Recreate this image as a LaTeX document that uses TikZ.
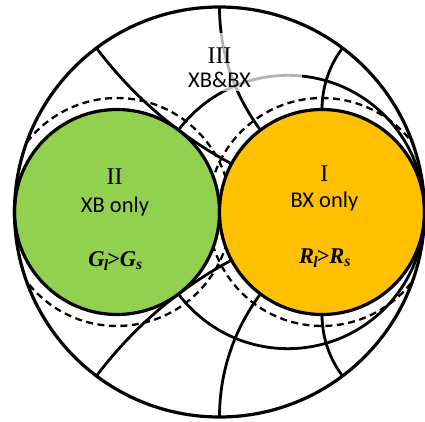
\documentclass[tikz,border=0pt]{standalone}
\usepackage{fontspec}
\setmainfont{Liberation Serif}
\newfontfamily\calib{Carlito}
\definecolor{gfill}{HTML}{92D050}
\definecolor{ofill}{HTML}{FFC000}
\begin{document}
\begin{tikzpicture}[x=205pt,y=205pt,
  gridline/.style={line width=2.8pt},
  dashcirc/.style={line width=2.3pt, dash pattern=on 7pt off 4.5pt},
  region/.style={line width=3.2pt, draw=black},
  roman/.style={font=\fontsize{24}{26}\selectfont, anchor=base, inner sep=0pt},
  label/.style={font=\calib\fontsize{22.5}{24}\selectfont, anchor=base, inner sep=0pt},
  formula/.style={font=\fontsize{22.5}{24}\selectfont\bfseries\itshape, anchor=base, inner sep=0pt}]
\useasboundingbox (-1.0707,-1.0195) rectangle (1.0024,1.0341);
\coordinate (O) at (0,0);
\begin{scope}
  \clip (O) circle[radius=1];
  % constant resistance r=0.5
  \draw[gridline] (1/3,0) circle[radius=2/3];
  % constant reactance x = +-0.5, +-1, +-2
  \draw[gridline] (1,2) circle[radius=2];
  \draw[gridline] (1,-2) circle[radius=2];
  \draw[gridline] (1,1) circle[radius=1];
  \draw[gridline] (1,-1) circle[radius=1];
  \draw[gridline] (1,0.5) circle[radius=0.5];
  \draw[gridline] (1,-0.5) circle[radius=0.5];
  % dashed circles
  \draw[dashcirc] (-0.5,0) circle[radius=0.556];
  \draw[dashcirc] (0.5,0) circle[radius=0.556];
\end{scope}
\fill[white, fill opacity=0.7] (-0.388,0.59) rectangle (0.402,0.873);
\filldraw[region, fill=gfill] (-0.5,0) circle[radius=0.5];
\filldraw[region, fill=ofill] (0.5,0) circle[radius=0.5];
\draw[line width=3.2pt] (O) circle[radius=1];
% texts
\node[roman] (t3) at (0.0,0.725) {III};
\node[label] (t3b) at (0.0,0.608) {XB\&BX};
\node[roman] (t2) at (-0.512,0.132) {II};
\node[label] (t2b) at (-0.51,0.0) {XB only};
\node[formula] (t2c) at (-0.507,-0.267) {G\textsubscript{\kern-0.05em l}\kern-0.08em>G\textsubscript{s}};
\node[roman] (t1) at (0.512,0.151) {I};
\node[label] (t1b) at (0.512,0.023) {BX only};
\node[formula] (t1c) at (0.515,-0.25) {R\textsubscript{\kern-0.05em l}\kern-0.08em>R\textsubscript{s}};
\end{tikzpicture}
\end{document}
